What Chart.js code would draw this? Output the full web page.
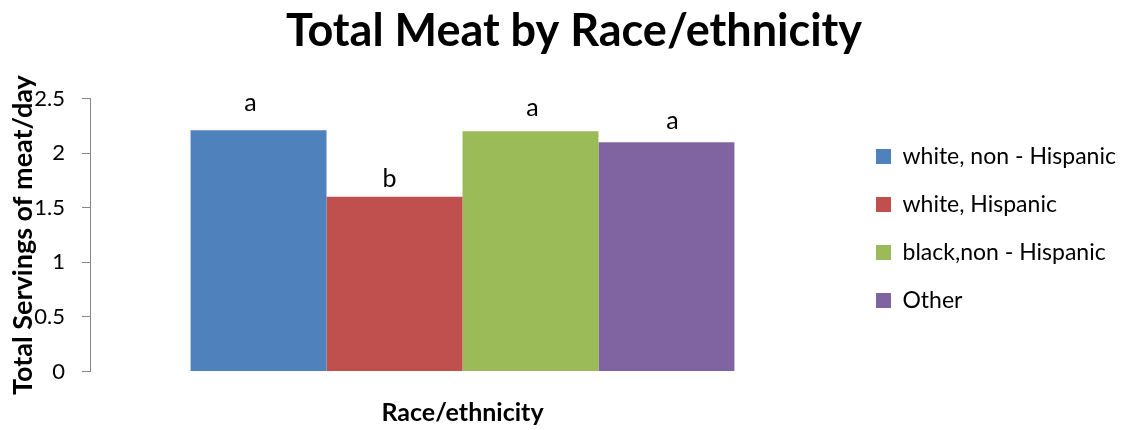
<!DOCTYPE html>
<html>
<head>
<meta charset="utf-8">
<title>Total Meat by Race/ethnicity</title>
<script src="https://cdn.jsdelivr.net/npm/chart.js@4.4.1/dist/chart.umd.min.js"></script>
<style>
  html, body { margin: 0; padding: 0; background: #fff; }
  .chart-box { width: 1133px; height: 430px; }
</style>
</head>
<body>
<div class="chart-box"><canvas id="meatChart" width="1133" height="430"></canvas></div>
<script>
const categories = ['Race/ethnicity'];
const groups = ['white, non - Hispanic', 'white, Hispanic', 'black,non - Hispanic', 'Other'];
const servings = [2.21, 1.60, 2.20, 2.10];
const letters = ['a', 'b', 'a', 'a'];
const colors = ['#4F81BD', '#C0504D', '#9BBB59', '#8064A2'];

const FONT = 'Lato, "Open Sans", sans-serif';
const AXIS_GREY = '#868686';
const LEGEND_SIZE = 23;
const LEGEND_PAD = 25;
const LEGEND_LEFT = 851;
const LEFT_PAD = 22;

Chart.defaults.font.family = FONT;
Chart.defaults.color = '#000';

// right padding so the legend block starts at LEGEND_LEFT
// (chart.js adds ~10px to the legend width on top of what we measure)
const measureCtx = document.createElement('canvas').getContext('2d');
measureCtx.font = `${LEGEND_SIZE}px ${FONT}`;
const widest = Math.max(...groups.map((g) => measureCtx.measureText(g).width));
const legendWidth = LEGEND_PAD + 15 + LEGEND_SIZE / 2 + widest + 10;
const rightPad = Math.max(0, 1133 - LEGEND_LEFT - legendWidth);

const letterLabels = {
  id: 'letterLabels',
  afterDatasetsDraw(chart, args, opts) {
    const { ctx } = chart;
    ctx.save();
    ctx.font = `${opts.size}px ${FONT}`;
    ctx.fillStyle = '#000';
    ctx.textAlign = 'center';
    ctx.textBaseline = 'alphabetic';
    chart.data.datasets.forEach((ds, i) => {
      const bar = chart.getDatasetMeta(i).data[0];
      if (!bar) return;
      ctx.fillText(letters[i], bar.x + opts.dx[i], bar.y - opts.dy[i]);
    });
    ctx.restore();
  }
};

new Chart(document.getElementById('meatChart'), {
  type: 'bar',
  data: {
    labels: categories,
    datasets: groups.map((name, i) => ({
      label: name,
      data: [servings[i]],
      backgroundColor: colors[i],
      borderWidth: 0,
      categoryPercentage: 0.73,
      barPercentage: 1
    }))
  },
  options: {
    responsive: false,
    animation: false,
    layout: { padding: { left: LEFT_PAD, right: rightPad, top: 0, bottom: 0 } },
    scales: {
      x: {
        grid: { display: false },
        border: { display: false },
        ticks: { display: false },
        title: {
          display: true,
          text: 'Race/ethnicity',
          font: { size: 25, weight: 'bold' },
          padding: { top: 0, bottom: 2 }
        },
        afterFit(scale) { scale.height = 58.5; }
      },
      y: {
        min: 0,
        max: 2.5,
        ticks: {
          stepSize: 0.5,
          font: { size: 22 },
          color: '#000',
          padding: 17,
          callback: (v) => `${v}`
        },
        grid: { drawOnChartArea: false, color: AXIS_GREY, tickLength: 8 },
        border: { color: AXIS_GREY },
        title: {
          display: true,
          text: 'Total Servings of meat/day',
          font: { size: 27, weight: 'bold', lineHeight: 0.1 },
          padding: { top: 0, bottom: 0 }
        },
        afterFit(scale) { scale.width = 90 - LEFT_PAD; }
      },
      gap: {
        type: 'linear',
        position: 'right',
        grid: { display: false, drawTicks: false },
        border: { display: false },
        ticks: { display: false },
        afterFit(scale) { scale.width = 16; }
      }
    },
    plugins: {
      title: {
        display: true,
        text: 'Total Meat by Race/ethnicity',
        font: { size: 45, weight: 'bold' },
        color: '#000',
        padding: { top: 4, bottom: 40.6 }
      },
      legend: {
        position: 'right',
        align: 'start',
        maxWidth: 400,
        title: { display: true, text: '', font: { size: 10, lineHeight: 1 }, padding: { top: 110, bottom: 0 } },
        labels: {
          boxWidth: 15,
          boxHeight: 15,
          padding: LEGEND_PAD,
          font: { size: LEGEND_SIZE },
          color: '#000'
        }
      },
      tooltip: { enabled: false },
      letterLabels: {
        size: 25,
        dx: [-8, -5, 2, 6],
        dy: [19, 10, 15, 13]
      }
    }
  },
  plugins: [letterLabels]
});
</script>
</body>
</html>
